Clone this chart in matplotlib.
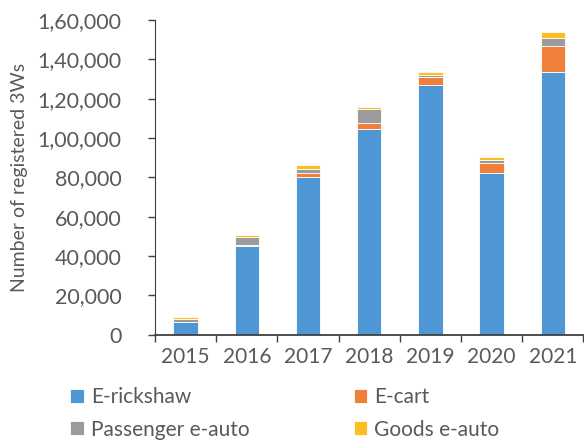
import matplotlib

matplotlib.use("Agg")
import matplotlib.pyplot as plt
from matplotlib.ticker import FuncFormatter
import numpy as np

years = ["2015", "2016", "2017", "2018", "2019", "2020", "2021"]
e_rickshaw = [6300, 45200, 80400, 104800, 126800, 82100, 133400]
e_cart = [300, 200, 1700, 2900, 4100, 5200, 13500]
passenger_e_auto = [1500, 4300, 2300, 7000, 1300, 1400, 4100]
goods_e_auto = [1000, 1200, 1700, 1200, 1400, 1500, 2900]

series = [
    ("E-rickshaw", e_rickshaw, "#4E96D4"),
    ("E-cart", e_cart, "#F07F3A"),
    ("Passenger e-auto", passenger_e_auto, "#9B9B9B"),
    ("Goods e-auto", goods_e_auto, "#FDBE22"),
]

TEXT = "#595959"
plt.rcParams["font.family"] = ["Lato", "DejaVu Sans"]


def indian_format(v, _pos):
    # 160000 -> 1,60,000
    s = str(int(round(v)))
    if len(s) <= 3:
        return s
    last3, rest = s[-3:], s[:-3]
    groups = []
    while len(rest) > 2:
        groups.insert(0, rest[-2:])
        rest = rest[:-2]
    if rest:
        groups.insert(0, rest)
    return ",".join(groups + [last3])


fig = plt.figure(figsize=(5.84, 4.4), dpi=100)
ax = fig.add_axes([155 / 584, 1 - 334.7 / 440, 1 - 155 / 584 - 0.001, (334.7 - 20) / 440])

x = np.arange(len(years))
bottom = np.zeros(len(years))
handles = {}
for name, vals, color in series:
    vals = np.array(vals, dtype=float)
    bars = ax.bar(x, vals, width=0.4, bottom=bottom, color=color,
                  edgecolor="white", linewidth=0.6, label=name)
    handles[name] = bars
    bottom += vals

ax.set_xlim(-0.5, len(years) - 0.5)
ax.set_ylim(0, 160000)
ax.set_yticks(np.arange(0, 160001, 20000))
ax.yaxis.set_major_formatter(FuncFormatter(indian_format))
ax.set_xticks(x)
ax.set_xticklabels(years)
ax.set_xticks(np.arange(-0.5, len(years)), minor=True)
ax.tick_params(axis="x", which="major", length=0, pad=9, labelsize=15, labelcolor=TEXT)
ax.tick_params(axis="x", which="minor", length=5, width=1, color="#404040")
ax.tick_params(axis="y", length=5, width=1, color="#404040", labelsize=15.5,
               labelcolor=TEXT, pad=19)
ax.set_ylabel("Number of registered 3Ws", fontsize=14, color=TEXT, labelpad=7)

for side in ["top", "right"]:
    ax.spines[side].set_visible(False)
ax.spines["left"].set_color("#404040")
ax.spines["bottom"].set_color("#404040")
ax.spines["bottom"].set_linewidth(1.3)

order = ["E-rickshaw", "Passenger e-auto", "E-cart", "Goods e-auto"]
leg = fig.legend([handles[n] for n in order], order, ncol=2, loc="upper left",
                 bbox_to_anchor=(70 / 584, 1 - 387 / 440), frameon=False,
                 fontsize=15, handlelength=0.65, handleheight=0.65,
                 handletextpad=0.35, columnspacing=5.0, labelspacing=0.6,
                 borderaxespad=0, borderpad=0)
for t in leg.get_texts():
    t.set_color(TEXT)

fig.savefig("out.png", dpi=100)
